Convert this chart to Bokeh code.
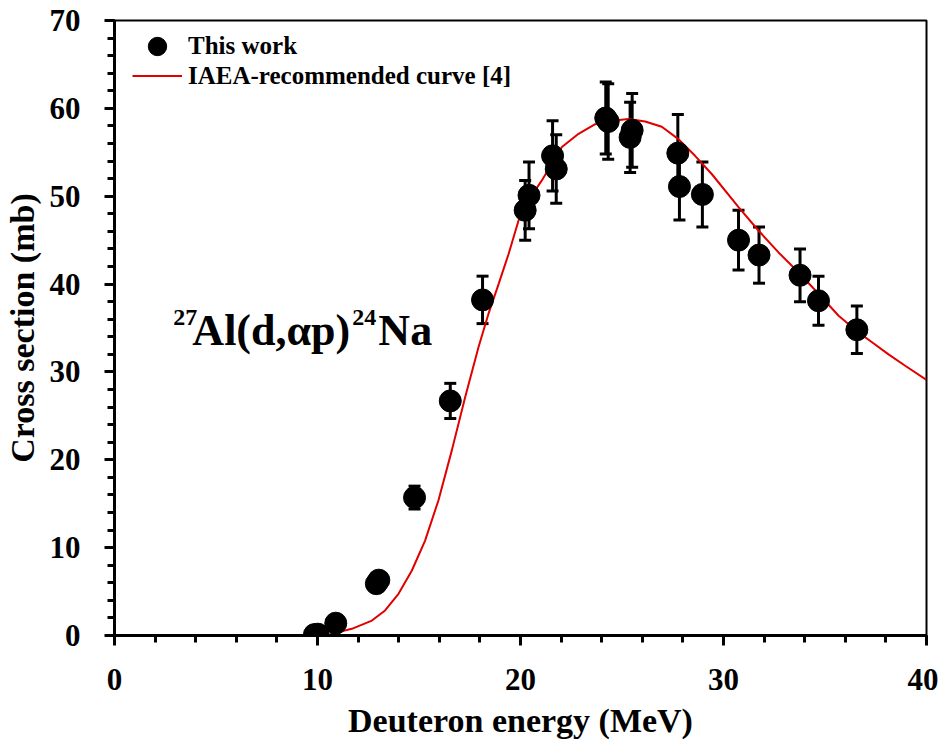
from bokeh.plotting import figure
from bokeh.models import (Range1d, FixedTicker, Whisker, TeeHead, Legend,
                          LegendItem, Label, ColumnDataSource)
from bokeh.embed import file_html
from bokeh.resources import INLINE

# ---- data: this work ----
energy = [9.85, 10.02, 10.9, 12.9, 13.02, 14.78, 16.54, 18.13, 20.23, 20.42,
          21.58, 21.76, 24.2, 24.32, 25.4, 25.5, 27.75, 27.83, 28.96, 30.74,
          31.75, 33.77, 34.68, 36.57]
sigma = [0.1, 0.15, 1.4, 5.9, 6.3, 15.7, 26.7, 38.2, 48.4, 50.1,
         54.6, 53.1, 58.9, 58.5, 56.7, 57.5, 54.9, 51.1, 50.2, 45.0,
         43.3, 41.0, 38.1, 34.8]
sigma_err = [0.05, 0.05, 0.2, 0.5, 0.5, 1.3, 2.0, 2.7, 3.4, 3.8,
             4.0, 3.9, 4.1, 4.3, 4.0, 4.2, 4.4, 3.8, 3.7, 3.4,
             3.2, 3.0, 2.8, 2.7]

# ---- data: IAEA recommended curve ----
curve_e = [10.4, 10.54, 11.69, 12.68, 13.33, 13.99, 14.65, 15.3, 15.96, 16.62,
           17.27, 17.93, 18.42, 18.92, 19.41, 19.9, 20.39, 21.05, 22.04, 22.86,
           23.68, 24.5, 25.32, 26.14, 26.96, 27.78, 28.6, 29.43, 30.74, 31.72,
           32.71, 33.69, 34.68, 35.67, 36.65, 37.3, 38.13, 38.95, 40.0]
curve_s = [0.0, 0.1, 0.76, 1.7, 2.85, 4.75, 7.4, 10.8, 15.4, 21.1,
           27.1, 32.8, 36.6, 40.0, 43.4, 47.2, 49.5, 51.8, 55.6, 57.1,
           58.2, 58.6, 58.8, 58.5, 57.9, 56.5, 54.6, 52.5, 48.75, 46.1,
           43.6, 41.35, 38.9, 36.4, 34.5, 33.4, 32.0, 30.7, 29.1]

x_major = [0, 10, 20, 30, 40]
x_minor = list(range(0, 41, 2))
y_major = list(range(0, 71, 10))
y_minor = list(range(0, 71, 2))

FONT = "Liberation Serif"

p = figure(frame_width=812, frame_height=615,
           min_border_left=114, min_border_top=20, min_border_right=12,
           min_border_bottom=110,
           x_range=Range1d(0, 40), y_range=Range1d(0, 70),
           output_backend="svg", toolbar_location=None)
p.background_fill_color = "white"
p.border_fill_color = "white"
p.outline_line_color = "black"
p.outline_line_width = 2
p.xgrid.visible = False
p.ygrid.visible = False

p.xaxis.ticker = FixedTicker(ticks=x_major, minor_ticks=x_minor)
p.yaxis.ticker = FixedTicker(ticks=y_major, minor_ticks=y_minor)
for ax in (p.xaxis[0], p.yaxis[0]):
    ax.axis_line_width = 3
    ax.axis_line_color = "black"
    ax.major_tick_in = 0
    ax.major_tick_out = 10
    ax.minor_tick_in = 0
    ax.minor_tick_out = 7
    ax.major_tick_line_width = 3
    ax.minor_tick_line_width = 3
    ax.major_tick_line_color = "black"
    ax.minor_tick_line_color = "black"
    ax.major_label_text_font = FONT
    ax.major_label_text_font_style = "bold"
    ax.major_label_text_font_size = "31px"
    ax.major_label_text_color = "black"
    ax.axis_label_text_font = FONT
    ax.axis_label_text_font_style = "bold"
    ax.axis_label_text_font_size = "34px"
    ax.axis_label_text_color = "black"
p.xaxis.major_label_standoff = 23
p.yaxis.major_label_standoff = 24
p.xaxis.axis_label = "Deuteron energy (MeV)"
p.yaxis.axis_label = "Cross section (mb)"
p.xaxis.axis_label_standoff = 9
p.yaxis.axis_label_standoff = 6

src = ColumnDataSource(dict(
    e=energy, s=sigma,
    lo=[v - d for v, d in zip(sigma, sigma_err)],
    hi=[v + d for v, d in zip(sigma, sigma_err)]))

ln = p.line(curve_e, curve_s, line_color="#e00000", line_width=2)

wh = Whisker(source=src, base="e", upper="hi", lower="lo", dimension="height",
             line_color="black", line_width=3,
             upper_head=TeeHead(size=12, line_width=3, line_color="black"),
             lower_head=TeeHead(size=12, line_width=3, line_color="black"))
p.add_layout(wh)

sc = p.scatter("e", "s", source=src, size=22, fill_color="black",
               line_color="black")

leg_common = dict(padding=0, margin=0, label_standoff=6,
                  border_line_color=None, background_fill_alpha=0,
                  label_text_font=FONT, label_text_font_style="bold",
                  label_text_font_size="25px", label_text_color="black",
                  glyph_width=50, spacing=0)
leg1 = Legend(items=[LegendItem(label="This work", renderers=[sc])],
              location=(18, 566), glyph_height=46, label_height=46, **leg_common)
leg2 = Legend(items=[LegendItem(label="IAEA-recommended curve [4]", renderers=[ln])],
              location=(18, 545), glyph_height=29, label_height=29, **leg_common)
p.add_layout(leg1)
p.add_layout(leg2)

# reaction annotation: 27Al(d,αp)24Na
ann_x = 2.9
ann_y = 34.7
pieces = [("27", 0, 13, "24px"), ("Al(d,\u03b1p)", 19, 0, "44px"),
          ("24", 179, 13, "24px"), ("Na", 205, 0, "44px")]
for txt, dx, dy, fs in pieces:
    p.add_layout(Label(x=ann_x, y=ann_y, x_offset=dx, y_offset=dy, text=txt,
                       text_font=FONT, text_font_style="bold",
                       text_font_size=fs, text_color="black",
                       text_baseline="alphabetic", text_align="left"))

open("out.html", "w").write(file_html(p, INLINE))
